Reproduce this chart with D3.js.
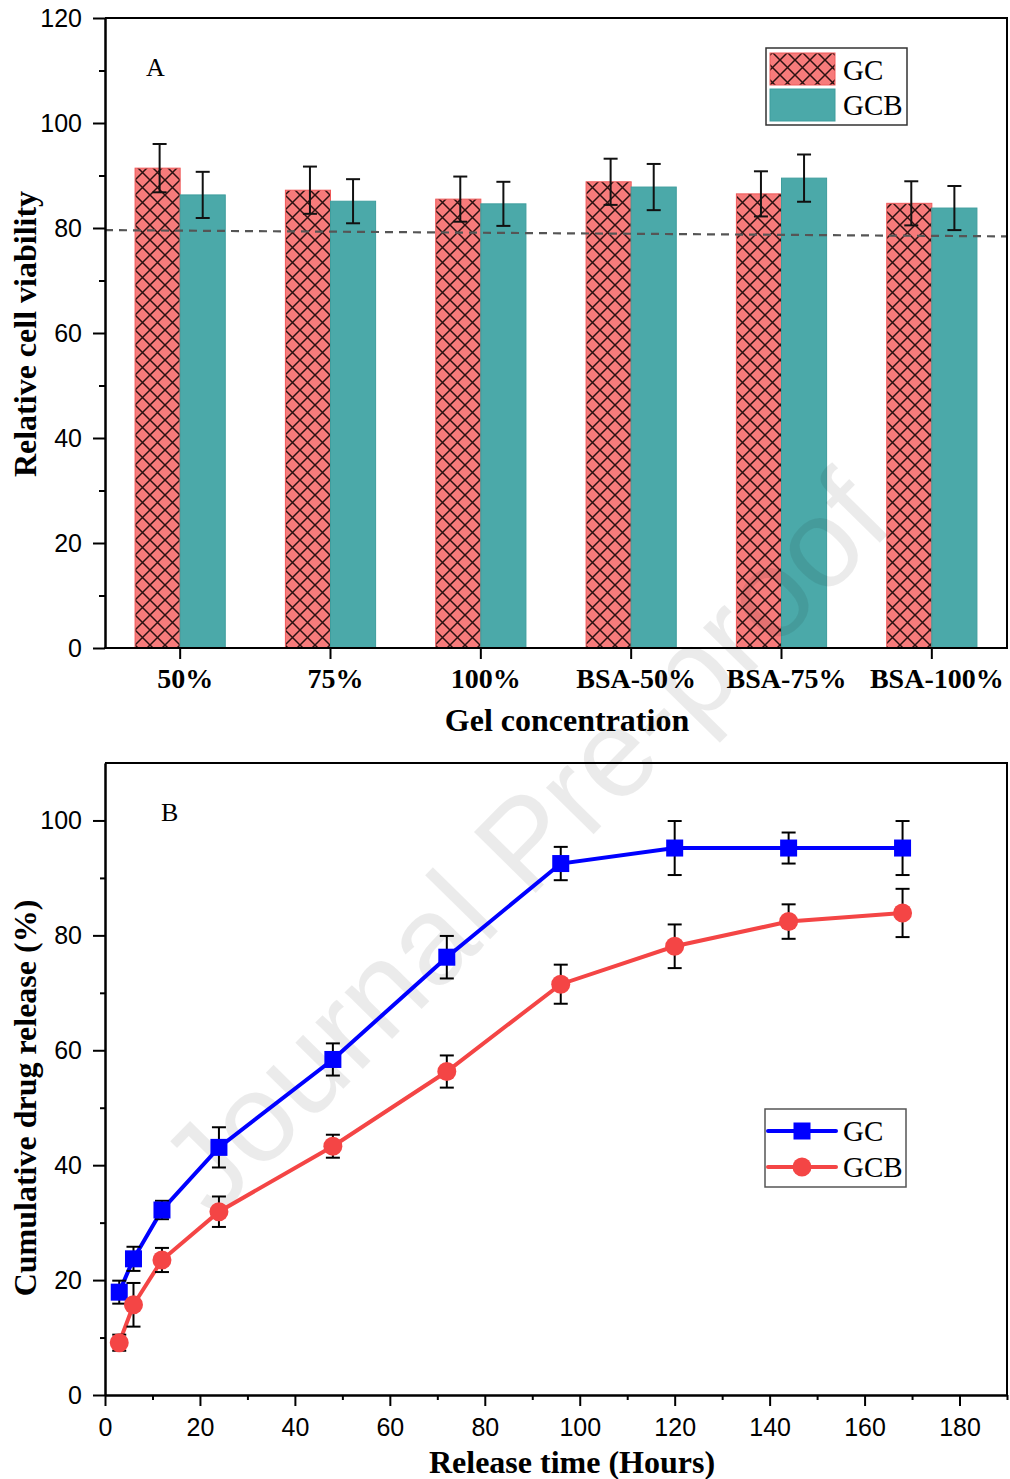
<!DOCTYPE html>
<html>
<head>
<meta charset="utf-8">
<script src="https://cdn.jsdelivr.net/npm/d3@7"></script>
<style>
  body { margin: 0; background: #fff; }
  svg { display: block; }
  .tick text { font-family: "Liberation Sans", Arial, sans-serif; font-size: 25px; fill: #000; }
</style>
</head>
<body>
<div id="chart"></div>
<script>
// ---- data, panel A ----
var categories = ["50%", "75%", "100%", "BSA-50%", "BSA-75%", "BSA-100%"];
var groups = ["GC", "GCB"];
var gcViability = [91.4, 87.2, 85.5, 88.8, 86.5, 84.7];
var gcViabilityErr = [4.6, 4.5, 4.3, 4.4, 4.3, 4.2];
var gcbViability = [86.3, 85.1, 84.6, 87.8, 89.5, 83.8];
var gcbViabilityErr = [4.4, 4.2, 4.2, 4.4, 4.5, 4.2];
var refLine = [79.6, 78.4];   // dashed line, value at left and right edge
var viabilityTicks = [0, 20, 40, 60, 80, 100, 120];

// ---- data, panel B ----
var hours = [3, 6, 12, 24, 48, 72, 96, 120, 144, 168];
var gcRelease = [17.9, 23.7, 32.2, 43.1, 58.4, 76.2, 92.5, 95.2, 95.2, 95.2];
var gcReleaseErr = [2.0, 2.1, 1.6, 3.5, 2.8, 3.7, 2.9, 4.7, 2.7, 4.7];
var gcbRelease = [9.1, 15.7, 23.5, 31.9, 43.3, 56.3, 71.5, 78.1, 82.4, 83.9];
var gcbReleaseErr = [1.4, 3.8, 2.1, 2.65, 2.0, 2.8, 3.4, 3.8, 3.0, 4.2];
var hourTicks = [0, 20, 40, 60, 80, 100, 120, 140, 160, 180];
var releaseTicks = [0, 20, 40, 60, 80, 100];

var serif = "'Liberation Serif', 'Times New Roman', serif";
var gcFill = "#f77b7b", gcStroke = "#f05a5a";
var gcbFill = "#4ba9a9", gcbStroke = "#3f9d9d";
var blue = "#0000ff", red = "#f44545";

var svg = d3.select("#chart").append("svg")
  .attr("width", 1010)
  .attr("height", 1479);

// crosshatch pattern for GC bars
var defs = svg.append("defs");
var pat = defs.append("pattern")
  .attr("id", "hatch")
  .attr("patternUnits", "userSpaceOnUse")
  .attr("width", 15).attr("height", 15);
pat.append("rect").attr("width", 15).attr("height", 15).attr("fill", gcFill);
pat.append("path")
  .attr("d", "M0,0L15,15M15,0L0,15M-2,13L2,17M13,-2L17,2M-2,2L2,-2M13,17L17,13")
  .attr("stroke", "#2b1212").attr("stroke-width", 1.5);

function errorBar(g, x, yTop, yBot, cap) {
  g.append("line").attr("x1", x).attr("x2", x).attr("y1", yTop).attr("y2", yBot);
  g.append("line").attr("x1", x - cap).attr("x2", x + cap).attr("y1", yTop).attr("y2", yTop);
  g.append("line").attr("x1", x - cap).attr("x2", x + cap).attr("y1", yBot).attr("y2", yBot);
}

function styleAxis(g) {
  g.select(".domain").attr("stroke", "#000").attr("stroke-width", 2);
  g.selectAll(".tick line").attr("stroke", "#000").attr("stroke-width", 2);
}

// =================== Panel A ===================
var left = 105, right = 1007;
var yA = d3.scaleLinear().domain([0, 120]).range([648, 18]);
var xA = d3.scaleBand().domain(categories).range([left, right])
  .paddingInner(0.4).paddingOuter(0.2);
var xSub = d3.scaleBand().domain(groups).range([0, xA.bandwidth()]);

var barsA = svg.append("g");
var rowsA = categories.map(function(c, i) {
  return { cat: c, gc: gcViability[i], gcErr: gcViabilityErr[i], gcb: gcbViability[i], gcbErr: gcbViabilityErr[i] };
});

barsA.selectAll("rect.gc").data(rowsA).enter().append("rect")
  .attr("x", d => xA(d.cat) + xSub("GC"))
  .attr("y", d => yA(d.gc))
  .attr("width", xSub.bandwidth())
  .attr("height", d => yA(0) - yA(d.gc))
  .attr("fill", "url(#hatch)")
  .attr("stroke", gcStroke).attr("stroke-width", 1);

barsA.selectAll("rect.gcb").data(rowsA).enter().append("rect")
  .attr("x", d => xA(d.cat) + xSub("GCB"))
  .attr("y", d => yA(d.gcb))
  .attr("width", xSub.bandwidth())
  .attr("height", d => yA(0) - yA(d.gcb))
  .attr("fill", gcbFill)
  .attr("stroke", gcbStroke).attr("stroke-width", 1);

// dashed reference line
svg.append("line")
  .attr("x1", left).attr("x2", right)
  .attr("y1", yA(refLine[0])).attr("y2", yA(refLine[1]))
  .attr("stroke", "#555").attr("stroke-width", 2.2)
  .attr("stroke-dasharray", "8,6");

var errA = svg.append("g").attr("stroke", "#111").attr("stroke-width", 2);
rowsA.forEach(function(d) {
  var cx1 = xA(d.cat) + xSub("GC") + xSub.bandwidth() / 2 + 2;
  var cx2 = xA(d.cat) + xSub("GCB") + xSub.bandwidth() / 2;
  errorBar(errA, cx1, yA(d.gc + d.gcErr), yA(d.gc - d.gcErr), 7);
  errorBar(errA, cx2, yA(d.gcb + d.gcbErr), yA(d.gcb - d.gcbErr), 7);
});

// axes A
var yAxisA = svg.append("g").attr("transform", `translate(${left},0)`)
  .call(d3.axisLeft(yA).tickValues(viabilityTicks).tickSize(12).tickPadding(11).tickSizeOuter(0));
styleAxis(yAxisA);
var yMinorA = svg.append("g").attr("transform", `translate(${left},0)`)
  .call(d3.axisLeft(yA).tickValues([10, 30, 50, 70, 90, 110]).tickSize(6).tickFormat("").tickSizeOuter(0));
styleAxis(yMinorA);

var xAxisA = svg.append("g").attr("transform", `translate(0,${yA(0)})`)
  .call(d3.axisBottom(xA).tickSize(11).tickSizeOuter(0));
styleAxis(xAxisA);
xAxisA.select(".domain").attr("d", `M${left - 1},0H${right + 1}`);
xAxisA.selectAll(".tick text")
  .attr("y", 40).attr("dy", null).attr("dx", 5)
  .style("font-family", serif).style("font-weight", "bold").style("font-size", "28px");

// frame top/right
svg.append("path")
  .attr("d", `M${left},${yA(120)}H${right}V${yA(0)}`)
  .attr("fill", "none").attr("stroke", "#000").attr("stroke-width", 2);

svg.append("text").attr("x", 146).attr("y", 76).text("A")
  .style("font-family", serif).style("font-size", "26px");

svg.append("text")
  .attr("transform", `translate(36,334) rotate(-90)`)
  .attr("text-anchor", "middle")
  .style("font-family", serif).style("font-weight", "bold").style("font-size", "32px")
  .text("Relative cell viability");

svg.append("text")
  .attr("x", 567).attr("y", 731)
  .attr("text-anchor", "middle")
  .style("font-family", serif).style("font-weight", "bold").style("font-size", "32px")
  .text("Gel concentration");

// legend A
var legA = svg.append("g");
legA.append("rect").attr("x", 766).attr("y", 48).attr("width", 141).attr("height", 77)
  .attr("fill", "#fff").attr("stroke", "#333").attr("stroke-width", 1.5);
legA.append("rect").attr("x", 770).attr("y", 53).attr("width", 65).attr("height", 32)
  .attr("fill", "url(#hatch)").attr("stroke", gcStroke).attr("stroke-width", 1);
legA.append("rect").attr("x", 770).attr("y", 89).attr("width", 65).attr("height", 32)
  .attr("fill", gcbFill).attr("stroke", gcbStroke).attr("stroke-width", 1);
legA.selectAll("text").data(groups).enter().append("text")
  .attr("x", 843).attr("y", (d, i) => 80 + i * 35)
  .style("font-family", serif).style("font-size", "29px")
  .text(d => d);

// watermark
svg.append("text")
  .attr("transform", "translate(524,842) rotate(-45.5)")
  .attr("text-anchor", "middle")
  .attr("dy", "0.35em")
  .style("font-family", "'Liberation Sans', Arial, sans-serif")
  .style("font-size", "126px")
  .attr("fill", "#000").attr("fill-opacity", 0.08)
  .text("Journal Pre-proof");

// =================== Panel B ===================
var xB = d3.scaleLinear().domain([0, 190]).range([left, right]);
var yB = d3.scaleLinear().domain([0, 110]).range([1395, 763]);

var seriesB = [
  { name: "GC", color: blue, shape: "square", vals: gcRelease, errs: gcReleaseErr },
  { name: "GCB", color: red, shape: "circle", vals: gcbRelease, errs: gcbReleaseErr }
];

var line = d3.line().x(d => xB(d.h)).y(d => yB(d.v));

seriesB.forEach(function(s) {
  var pts = hours.map((h, i) => ({ h: h, v: s.vals[i], e: s.errs[i] }));
  svg.append("path").datum(pts)
    .attr("d", line)
    .attr("fill", "none").attr("stroke", s.color).attr("stroke-width", 4);
  var eg = svg.append("g").attr("stroke", "#000").attr("stroke-width", 2);
  pts.forEach(function(p) {
    errorBar(eg, xB(p.h), yB(p.v + p.e), yB(p.v - p.e), 7);
  });
  if (s.shape === "square") {
    svg.append("g").selectAll("rect").data(pts).enter().append("rect")
      .attr("x", d => xB(d.h) - 8.5).attr("y", d => yB(d.v) - 8.5)
      .attr("width", 17).attr("height", 17).attr("fill", s.color);
  } else {
    svg.append("g").selectAll("circle").data(pts).enter().append("circle")
      .attr("cx", d => xB(d.h)).attr("cy", d => yB(d.v))
      .attr("r", 9.5).attr("fill", s.color);
  }
});

var yAxisB = svg.append("g").attr("transform", `translate(${left},0)`)
  .call(d3.axisLeft(yB).tickValues(releaseTicks).tickSize(12).tickPadding(11).tickSizeOuter(0));
styleAxis(yAxisB);
var yMinorB = svg.append("g").attr("transform", `translate(${left},0)`)
  .call(d3.axisLeft(yB).tickValues([10, 30, 50, 70, 90]).tickSize(5).tickFormat("").tickSizeOuter(0));
styleAxis(yMinorB);

var xAxisB = svg.append("g").attr("transform", `translate(0,${yB(0)})`)
  .call(d3.axisBottom(xB).tickValues(hourTicks).tickSize(11).tickSizeOuter(0));
styleAxis(xAxisB);
xAxisB.selectAll(".tick text").attr("y", 41).attr("dy", null);
var xMinorB = svg.append("g").attr("transform", `translate(0,${yB(0)})`)
  .call(d3.axisBottom(xB).tickValues([10, 30, 50, 70, 90, 110, 130, 150, 170, 190]).tickSize(5).tickFormat("").tickSizeOuter(0));
styleAxis(xMinorB);

svg.append("path")
  .attr("d", `M${left},${yB(110)}H${right}V${yB(0)}`)
  .attr("fill", "none").attr("stroke", "#000").attr("stroke-width", 2);

svg.append("text").attr("x", 161).attr("y", 821).text("B")
  .style("font-family", serif).style("font-size", "26px");

svg.append("text")
  .attr("transform", `translate(36,1098) rotate(-90)`)
  .attr("text-anchor", "middle")
  .style("font-family", serif).style("font-weight", "bold").style("font-size", "32px")
  .text("Cumulative drug release (%)");

svg.append("text")
  .attr("x", 572).attr("y", 1473)
  .attr("text-anchor", "middle")
  .style("font-family", serif).style("font-weight", "bold").style("font-size", "32px")
  .text("Release time (Hours)");

// legend B
var legB = svg.append("g");
legB.append("rect").attr("x", 765).attr("y", 1109).attr("width", 141).attr("height", 78)
  .attr("fill", "#fff").attr("stroke", "#555").attr("stroke-width", 1.5);
seriesB.forEach(function(s, i) {
  var cy = 1131 + i * 36;
  legB.append("line").attr("x1", 768).attr("x2", 836).attr("y1", cy).attr("y2", cy)
    .attr("stroke", s.color).attr("stroke-width", 4).attr("stroke-linecap", "round");
  if (s.shape === "square") {
    legB.append("rect").attr("x", 793.5).attr("y", cy - 8.5).attr("width", 17).attr("height", 17).attr("fill", s.color);
  } else {
    legB.append("circle").attr("cx", 802).attr("cy", cy).attr("r", 9.5).attr("fill", s.color);
  }
  legB.append("text").attr("x", 843).attr("y", cy + 10)
    .style("font-family", serif).style("font-size", "29px")
    .text(s.name);
});
</script>
</body>
</html>
